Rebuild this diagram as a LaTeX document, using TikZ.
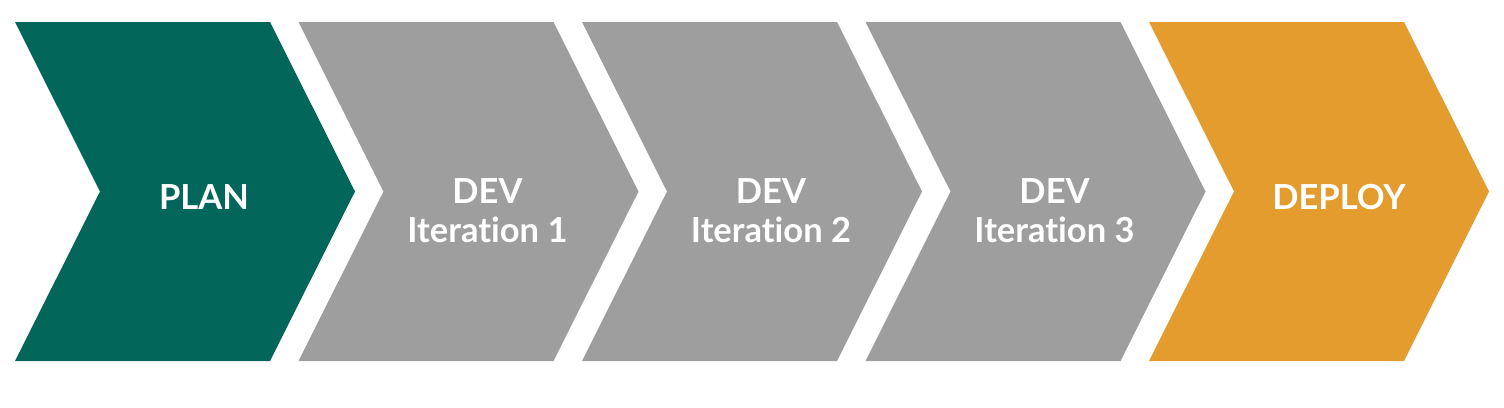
\documentclass[tikz,border=0pt]{standalone}
\usepackage{fontspec}
\setmainfont{Lato}[Ligatures=NoCommon]
\definecolor{plangreen}{HTML}{02665A}
\definecolor{devgray}{HTML}{9E9E9E}
\definecolor{deploygold}{HTML}{E49C2F}
\begin{document}
\begin{tikzpicture}[x=1pt, y=-1pt]
      \bfseries
      \fontsize{34.5}{39}\selectfont
      \tikzstyle{phase}=[text=white, align=center, anchor=base, inner sep=0pt]
      \useasboundingbox (0,0) rectangle (1504,407);

      % chevrons, left to right
      \foreach \x/\col in {15/plangreen, 298.5/devgray, 582/devgray, 865.5/devgray, 1149/deploygold}
        \fill[\col] (\x,22) -- ++(255,0) -- ++(85,169.5) -- ++(-85,169.5) -- ++(-255,0) -- ++(85,-169.5) -- cycle;

      \node[phase] (plan)   at (204,  209) {PLAN};
      \node[phase] (dev1)   at (487.5,242) {DEV\\Iteration 1};
      \node[phase] (dev2)   at (771,  242) {DEV\\Iteration 2};
      \node[phase] (dev3)   at (1054.5,242) {DEV\\Iteration 3};
      \node[phase] (deploy) at (1339, 209) {DEPLOY};
    \end{tikzpicture}
\end{document}
